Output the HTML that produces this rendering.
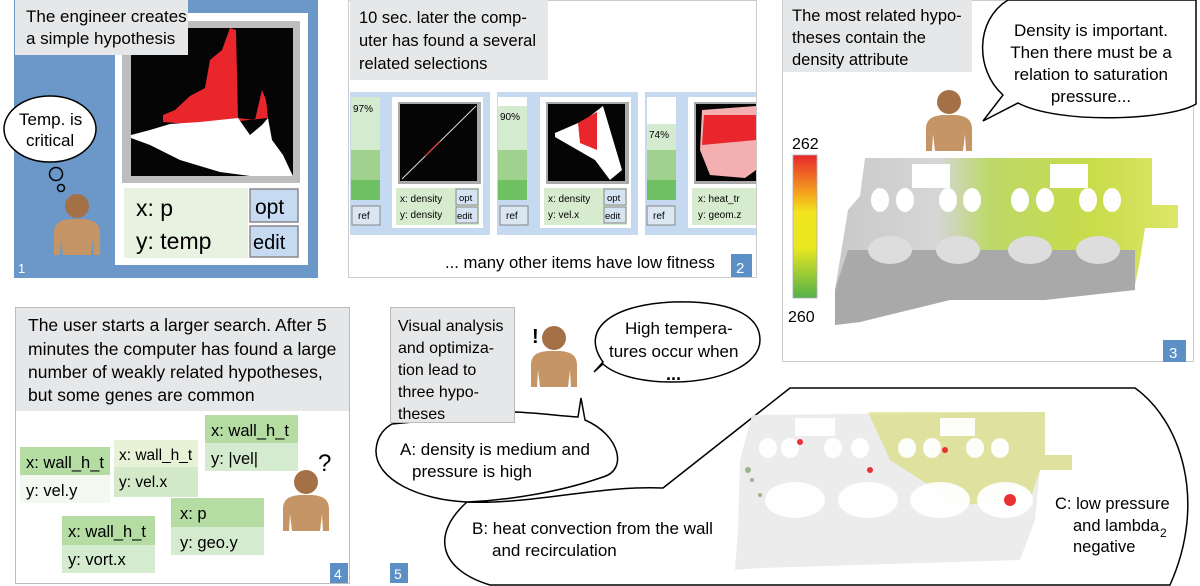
<!DOCTYPE html>
<html><head><meta charset="utf-8"><style>
body{margin:0;background:#fff;}
svg{display:block;font-family:"Liberation Sans",sans-serif;}
</style></head><body>
<svg width="1200" height="586" viewBox="0 0 1200 586" xmlns="http://www.w3.org/2000/svg">
<defs>
<g id="person">
<circle cx="26" cy="13" r="12" fill="#a47146"/>
<path d="M3,62 L3,40 C3,29 11,27 19,26 L33,26 C41,27 49,29 49,40 L49,62 L43,62 L42,45 L40,62 L12,62 L10,45 L9,62 Z" fill="#c59566"/>
</g>
</defs>

<!-- PANEL 1 -->
<rect x="14" y="0" width="304" height="278" fill="#6b98c9"/>
<rect x="115" y="13" width="193" height="252" fill="#fff"/>
<rect x="122" y="21" width="178" height="162" fill="#bdbdbd"/>
<rect x="131" y="28" width="162" height="148" fill="#050505"/>
<path d="M163,115 L175,110 L190,96 L205,88 L210,60 L222,50 L230,28 L236,30 L238,118 L255,120 L262,90 L266,100 L268,118 L200,125 L163,122 Z" fill="#e8262b"/>
<path d="M131,135 L150,130 L170,124 L200,122 L238,118 L250,135 L262,125 L268,118 L272,140 L283,155 L290,170 L293,176 L250,176 L220,172 L180,160 L150,145 L131,138 Z" fill="#fff"/>
<rect x="15" y="0" width="173" height="55" fill="#e6e7e8"/>
<text x="26" y="22" font-size="17">The engineer creates</text>
<text x="26" y="44" font-size="17">a simple hypothesis</text>
<rect x="124" y="188" width="124" height="70" fill="#e8f2e1"/>
<text x="136" y="216" font-size="23">x: p</text>
<text x="136" y="249" font-size="23">y: temp</text>
<rect x="250" y="189" width="48" height="33" fill="#c6daf1" stroke="#888" stroke-width="1.5"/>
<text x="255" y="214" font-size="21">opt</text>
<rect x="250" y="226" width="48" height="31" fill="#c6daf1" stroke="#888" stroke-width="1.5"/>
<text x="253" y="249" font-size="20">edit</text>
<ellipse cx="50" cy="129" rx="46" ry="33" fill="#fff" stroke="#000" stroke-width="1.5"/>
<text x="19" y="125" font-size="17">Temp. is</text>
<text x="26" y="146" font-size="17">critical</text>
<circle cx="56" cy="174" r="6.5" fill="none" stroke="#000" stroke-width="1.5"/>
<circle cx="61" cy="188" r="3.5" fill="none" stroke="#000" stroke-width="1.5"/>
<use href="#person" x="51" y="193"/>
<text x="18" y="273" font-size="13" fill="#fff">1</text>

<!-- PANEL 2 -->
<rect x="348.5" y="0.5" width="408" height="277" fill="#fff" stroke="#ccc"/>
<rect x="350" y="0" width="198" height="80" fill="#e6e7e8"/>
<text x="359" y="23" font-size="16.5">10 sec. later the comp-</text>
<text x="359" y="46" font-size="16.5">uter has found a several</text>
<text x="359" y="69" font-size="16.5">related selections</text>
<rect x="350" y="92" width="406" height="143" fill="#c5d9f0"/>
<rect x="490" y="92" width="7" height="143" fill="#fff"/>
<rect x="638" y="92" width="7" height="143" fill="#fff"/>
<rect x="351" y="97" width="29" height="53" fill="#d5ebd0"/>
<rect x="351" y="150" width="29" height="30" fill="#a1d18f"/>
<rect x="351" y="180" width="29" height="20" fill="#70c164"/>
<text x="353" y="112" font-size="10">97%</text>
<rect x="352" y="206" width="28" height="19" fill="#dbe6f3" stroke="#888"/>
<text x="358" y="219" font-size="10">ref</text>
<rect x="392" y="97" width="91" height="131" fill="#fff"/>
<rect x="398" y="102" width="83" height="82" fill="#aaa"/>
<rect x="400" y="104" width="77" height="77" fill="#050505"/>
<line x1="402" y1="179" x2="476" y2="106" stroke="#ddd" stroke-width="1"/>
<line x1="425" y1="156" x2="440" y2="141" stroke="#d22" stroke-width="1.2"/>
<rect x="396" y="188" width="83" height="37" fill="#d7ebcf"/>
<text x="400" y="202" font-size="10">x: density</text>
<text x="400" y="218" font-size="10">y: density</text>
<rect x="456" y="189" width="22" height="16" fill="#d5e3f2" stroke="#888"/>
<text x="459" y="201" font-size="9.5">opt</text>
<rect x="456" y="207" width="22" height="16" fill="#d5e3f2" stroke="#888"/>
<text x="457" y="219" font-size="9.5">edit</text>
<rect x="498" y="97" width="29" height="9" fill="#fff"/>
<rect x="498" y="106" width="29" height="44" fill="#d5ebd0"/>
<rect x="498" y="150" width="29" height="30" fill="#a1d18f"/>
<rect x="498" y="180" width="29" height="20" fill="#70c164"/>
<text x="500" y="120" font-size="10">90%</text>
<rect x="500" y="206" width="28" height="19" fill="#dbe6f3" stroke="#888"/>
<text x="506" y="219" font-size="10">ref</text>
<rect x="540" y="97" width="91" height="131" fill="#fff"/>
<rect x="546" y="102" width="83" height="82" fill="#aaa"/>
<rect x="548" y="104" width="77" height="77" fill="#050505"/>
<path d="M555,133 L585,120 L603,106 L622,170 L610,180 L595,160 L555,137 Z" fill="#fff"/>
<path d="M578,123 L597,112 L597,150 L580,143 Z" fill="#e8262b"/>
<rect x="544" y="188" width="83" height="37" fill="#d7ebcf"/>
<text x="548" y="202" font-size="10">x: density</text>
<text x="548" y="218" font-size="10">y: vel.x</text>
<rect x="604" y="189" width="22" height="16" fill="#d5e3f2" stroke="#888"/>
<text x="607" y="201" font-size="9.5">opt</text>
<rect x="604" y="207" width="22" height="16" fill="#d5e3f2" stroke="#888"/>
<text x="605" y="219" font-size="9.5">edit</text>
<rect x="647" y="97" width="29" height="53" fill="#fff"/>
<rect x="647" y="124" width="29" height="26" fill="#d5ebd0"/>
<rect x="647" y="150" width="29" height="30" fill="#a1d18f"/>
<rect x="647" y="180" width="29" height="20" fill="#70c164"/>
<text x="649" y="138" font-size="10">74%</text>
<rect x="647" y="206" width="28" height="19" fill="#dbe6f3" stroke="#888"/>
<text x="653" y="219" font-size="10">ref</text>
<rect x="688" y="97" width="68" height="131" fill="#fff"/>
<rect x="694" y="102" width="62" height="82" fill="#aaa"/>
<rect x="696" y="104" width="60" height="77" fill="#050505"/>
<path d="M702,110 L756,106 L756,170 L745,178 L710,175 L700,150 Z" fill="#f4b0b0"/>
<path d="M704,115 L756,115 L756,140 L702,145 Z" fill="#e8262b"/>
<rect x="692" y="188" width="64" height="37" fill="#d7ebcf"/>
<text x="698" y="202" font-size="10">x: heat_tr</text>
<text x="698" y="218" font-size="10">y: geom.z</text>
<text x="445" y="268" font-size="16.7">... many other items have low fitness</text>
<rect x="731" y="254" width="21" height="23" fill="#5b8fc6"/>
<text x="736" y="273" font-size="15" fill="#fff">2</text>

<!-- PANEL 3 -->
<rect x="782.5" y="0.5" width="411" height="361" fill="#fff" stroke="#ccc"/>
<rect x="783" y="0" width="189" height="72" fill="#e6e7e8"/>
<text x="792" y="21" font-size="16.5">The most related hypo-</text>
<text x="792" y="43" font-size="16.5">theses contain the</text>
<text x="792" y="65" font-size="16.5">density attribute</text>
<path d="M983,121 L1018,103 C1060,125 1170,120 1196,104 L1196,0 L1008,0 C975,20 975,70 1003,95 Z" fill="#fff" stroke="#000" stroke-width="1.5"/>
<text x="1091" y="36" font-size="17" text-anchor="middle">Density is important.</text>
<text x="1091" y="58" font-size="17" text-anchor="middle">Then there must be a</text>
<text x="1091" y="80" font-size="17" text-anchor="middle">relation to saturation</text>
<text x="1091" y="102" font-size="17" text-anchor="middle">pressure...</text>
<use href="#person" x="923" y="89"/>
<text x="792" y="149" font-size="16">262</text>
<text x="788" y="322" font-size="16">260</text>
<defs><linearGradient id="cb" x1="0" y1="0" x2="0" y2="1">
<stop offset="0" stop-color="#e8262b"/><stop offset="0.3" stop-color="#f5b31c"/><stop offset="0.4" stop-color="#f2e41e"/><stop offset="0.65" stop-color="#e8e820"/><stop offset="1" stop-color="#55b04a"/></linearGradient>
<linearGradient id="eng" x1="0" y1="0" x2="1" y2="0">
<stop offset="0" stop-color="#c9c9c9"/><stop offset="0.3" stop-color="#d6d6d6"/><stop offset="0.45" stop-color="#bcd86a"/><stop offset="0.75" stop-color="#c8dc4a"/><stop offset="1" stop-color="#dde66a"/></linearGradient></defs>
<rect x="793" y="155" width="24" height="143" fill="url(#cb)" stroke="#aab" stroke-width="0.8"/>
<path d="M865,158 L1152,158 L1152,205 L1178,205 L1178,228 L1145,228 L1140,260 L1135,285 L1045,300 L950,300 L860,322 L835,325 L835,290 L848,210 L860,196 Z" fill="url(#eng)"/>
<path d="M848,250 L1135,250 L1135,290 L1045,300 L950,300 L860,322 L835,325 L835,290 Z" fill="#a9a9a9"/>
<g fill="#fff">
<rect x="912" y="164" width="38" height="24"/><rect x="1050" y="164" width="38" height="24"/>
<ellipse cx="880" cy="200" rx="9" ry="12"/><ellipse cx="905" cy="200" rx="9" ry="12"/>
<ellipse cx="948" cy="200" rx="9" ry="12"/><ellipse cx="972" cy="200" rx="9" ry="12"/>
<ellipse cx="1020" cy="200" rx="9" ry="12"/><ellipse cx="1045" cy="200" rx="9" ry="12"/>
<ellipse cx="1088" cy="200" rx="9" ry="12"/><ellipse cx="1112" cy="200" rx="9" ry="12"/>
<ellipse cx="890" cy="250" rx="22" ry="14" fill="#ddd"/><ellipse cx="958" cy="250" rx="22" ry="14" fill="#ddd"/>
<ellipse cx="1030" cy="250" rx="22" ry="14" fill="#ddd"/><ellipse cx="1098" cy="250" rx="22" ry="14" fill="#ddd"/>
</g>
<rect x="1163" y="340" width="23" height="22" fill="#5b8fc6"/>
<text x="1169" y="358" font-size="15" fill="#fff">3</text>

<!-- PANEL 4 -->
<rect x="15.5" y="307.5" width="334" height="276" fill="#fff" stroke="#bbb"/>
<rect x="16" y="308" width="333" height="103" fill="#e6e7e8"/>
<text x="28" y="331" font-size="17.5">The user starts a larger search. After 5</text>
<text x="28" y="355" font-size="17.5">minutes the computer has found a large</text>
<text x="28" y="378" font-size="17.5">number of weakly related hypotheses,</text>
<text x="28" y="401" font-size="17.5">but some genes are common</text>
<rect x="20" y="447" width="90" height="28" fill="#b4dca3"/><rect x="20" y="475" width="90" height="28" fill="#f3f9f0"/>
<text x="26" y="468" font-size="16.5">x: wall_h_t</text><text x="26" y="496" font-size="16.5">y: vel.y</text>
<rect x="114" y="440" width="84" height="27" fill="#e7f2d6"/><rect x="114" y="467" width="84" height="30" fill="#d3e9c8"/>
<text x="119" y="460" font-size="15.5">x: wall_h_t</text><text x="119" y="487" font-size="15.5">y: vel.x</text>
<rect x="205" y="415" width="93" height="28" fill="#b4dca3"/><rect x="205" y="443" width="93" height="28" fill="#d5ebcf"/>
<text x="211" y="436" font-size="16.5">x: wall_h_t</text><text x="211" y="464" font-size="16.5">y: |vel|</text>
<rect x="171" y="498" width="93" height="29" fill="#b4dca3"/><rect x="171" y="527" width="93" height="28" fill="#d5ebcf"/>
<text x="180" y="519" font-size="16.5">x: p</text><text x="180" y="548" font-size="16.5">y: geo.y</text>
<rect x="62" y="516" width="93" height="29" fill="#b4dca3"/><rect x="62" y="545" width="93" height="28" fill="#d5ebcf"/>
<text x="68" y="537" font-size="16.5">x: wall_h_t</text><text x="68" y="565" font-size="16.5">y: vort.x</text>
<use href="#person" x="280" y="469"/>
<text x="318" y="471" font-size="24">?</text>
<rect x="330" y="563" width="18" height="20" fill="#5b8fc6"/>
<text x="334" y="579" font-size="14" fill="#fff">4</text>

<!-- PANEL 5 -->
<path d="M663,488 L790,388 L1135,388 C1180,420 1208,500 1170,585 L490,585 C440,570 430,535 467,502 C530,505 600,485 663,488 Z" fill="#fff" stroke="#000" stroke-width="1.5"/>
<g opacity="0.95">
<path d="M752,415 L1045,412 L1045,455 L1072,455 L1072,470 L1040,470 L1035,520 L1020,560 L760,568 L735,570 L738,530 L740,460 Z" fill="#ececec"/>
<path d="M868,412 L1045,412 L1045,455 L1072,455 L1072,470 L1040,470 L1030,500 L960,505 L890,460 Z" fill="#d4d858" opacity="0.55"/>
<g fill="#fff" opacity="0.95">
<ellipse cx="768" cy="448" rx="9" ry="10"/><ellipse cx="790" cy="448" rx="9" ry="10"/><ellipse cx="833" cy="448" rx="9" ry="10"/><ellipse cx="860" cy="448" rx="9" ry="10"/>
<ellipse cx="907" cy="448" rx="9" ry="10"/><ellipse cx="932" cy="448" rx="9" ry="10"/><ellipse cx="975" cy="448" rx="9" ry="10"/><ellipse cx="1000" cy="448" rx="9" ry="10"/>
<rect x="795" y="418" width="40" height="18"/><rect x="940" y="418" width="35" height="18"/>
<ellipse cx="795" cy="500" rx="30" ry="18"/><ellipse cx="868" cy="500" rx="30" ry="18"/><ellipse cx="940" cy="500" rx="30" ry="18"/><ellipse cx="1005" cy="500" rx="28" ry="18"/>
</g>
<g fill="#e8262b"><circle cx="1010" cy="500" r="6"/><circle cx="800" cy="442" r="3"/><circle cx="870" cy="470" r="3"/><circle cx="945" cy="450" r="3"/></g>
<g fill="#5a8a3a" opacity="0.6"><circle cx="748" cy="470" r="3"/><circle cx="752" cy="480" r="2"/><circle cx="760" cy="495" r="2"/></g>
</g>
<path d="M515,412 C540,413 560,416 578,417 L581,398 L585,420 C620,435 628,470 603,477 C560,492 510,500 467,502 C420,500 375,480 376,450 C377,435 385,428 392,424 Z" fill="#fff" stroke="#000" stroke-width="1.5"/>
<text x="400" y="455" font-size="17">A: density is medium and</text>
<text x="412" y="477" font-size="17">pressure is high</text>
<text x="472" y="534" font-size="17">B: heat convection from the wall</text>
<text x="492" y="556" font-size="17">and recirculation</text>
<text x="1055" y="509" font-size="16.5">C: low pressure</text>
<text x="1073" y="531" font-size="16.5">and lambda</text>
<text x="1160" y="537" font-size="12">2</text>
<text x="1073" y="552" font-size="16.5">negative</text>
<rect x="390.5" y="307.5" width="124" height="115" fill="#e6e7e8" stroke="#bbb"/>
<text x="398" y="331" font-size="16">Visual analysis</text>
<text x="398" y="353" font-size="16">and optimiza-</text>
<text x="398" y="375" font-size="16">tion lead to</text>
<text x="398" y="397" font-size="16">three hypo-</text>
<text x="398" y="419" font-size="16">theses</text>
<use href="#person" x="528" y="325"/>
<text x="532" y="343" font-size="20" font-weight="bold">!</text>
<path d="M594,372 L603,362 C580,330 610,305 672,302 C740,300 760,320 760,340 C760,365 720,382 672,382 C640,382 615,375 603,364 Z" fill="#fff" stroke="#000" stroke-width="1.5"/>
<text x="625" y="334" font-size="17">High tempera-</text>
<text x="609" y="357" font-size="17">tures occur when</text>
<text x="666" y="380" font-size="18" font-weight="bold">...</text>
<rect x="390" y="563" width="18" height="20" fill="#5b8fc6"/>
<text x="394" y="579" font-size="14" fill="#fff">5</text>
</svg>
</body></html>
